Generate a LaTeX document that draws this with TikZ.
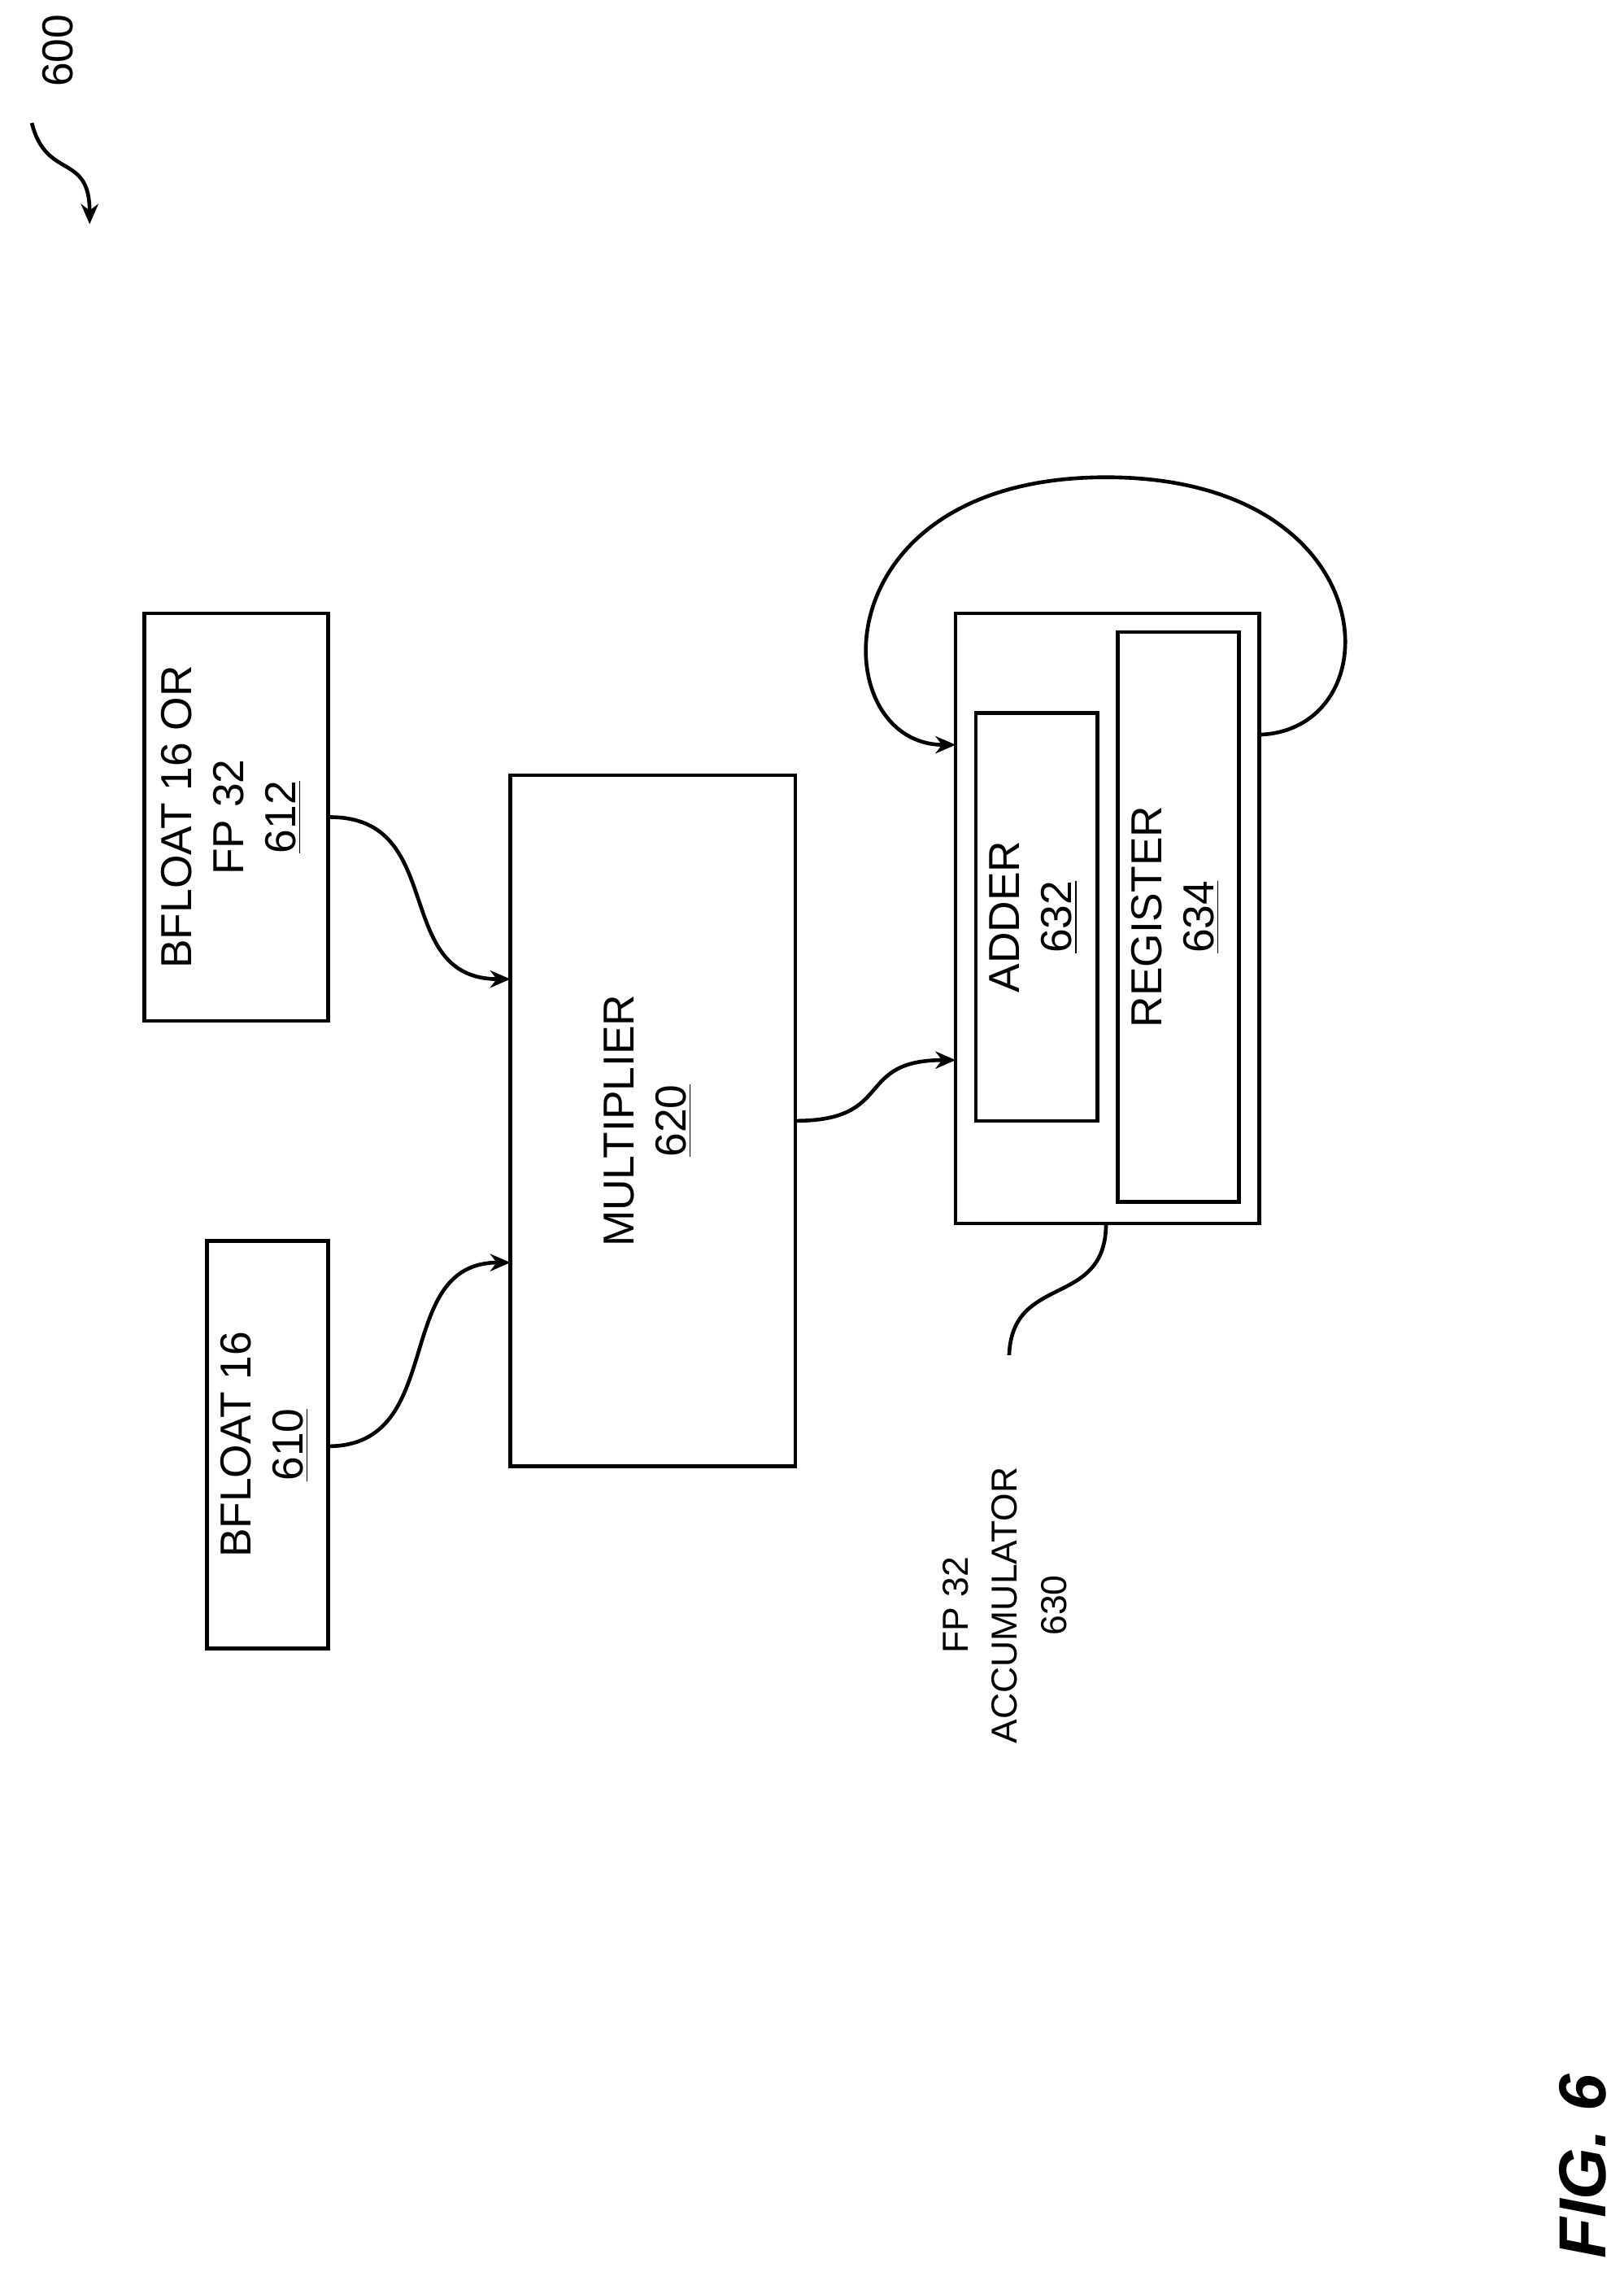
\documentclass[tikz,border=0pt]{standalone}
\usepackage{fontspec}
\setmainfont{Liberation Sans}
\usetikzlibrary{arrows.meta}
\begin{document}
\begin{tikzpicture}[x=0.5pt,y=-0.5pt,
  box/.style={draw,line width=1.3pt,rectangle,inner sep=0pt},
  lbl/.style={rotate=90,align=center,font=\fontsize{15}{18}\selectfont},
  con/.style={line width=1.3pt,-{Stealth[length=7pt,width=6pt]}}]
\useasboundingbox (0,0) rectangle (1123,1571);
\node[box,minimum width=63.5pt,minimum height=141pt] (b612) at (163.5,565) {};
\node[lbl] (t612) at (160,565) {BFLOAT 16 OR\\FP 32\\\underline{612}};
\node[box,minimum width=42pt,minimum height=141pt] (b610) at (185,999) {};
\node[lbl] (t610) at (183,999) {BFLOAT 16\\\underline{610}};
\node[box,minimum width=98.5pt,minimum height=239pt] (mul) at (451.5,775) {};
\node[lbl] (tmul) at (448,775) {MULTIPLIER\\\underline{620}};
\node[box,minimum width=105pt,minimum height=211pt] (acc) at (766,635) {};
\node[box,minimum width=42pt,minimum height=141pt] (add) at (717,634) {};
\node[lbl] (tadd) at (715,634) {ADDER\\\underline{632}};
\node[box,minimum width=42pt,minimum height=197pt] (reg) at (815,634) {};
\node[lbl] (treg) at (813,634) {REGISTER\\\underline{634}};
\coordinate (m1) at (353,677);
\coordinate (m2) at (353,873);
\coordinate (a1) at (661,733);
\coordinate (a2) at (661,515);
\coordinate (r1) at (871,508);
\coordinate (b1) at (227,1000);
\coordinate (m3) at (550,775);
\draw[con] (b612.east) .. controls (310,565) and (270,677) .. (m1);
\draw[con] (b1) .. controls (310,1000) and (270,873) .. (m2);
\draw[con] (m3) .. controls (620,775) and (590,733) .. (a1);
\draw[con] (r1) .. controls (965,505) and (960,330) .. (765,330) .. controls (565,330) and (570,515) .. (a2);
\coordinate (l1) at (765,846);
\coordinate (l2) at (698,937);
\draw[line width=1.3pt] (l1) .. controls (765,905) and (700,880) .. (l2);
\node[lbl,font=\fontsize{12.5}{17}\selectfont] (t630) at (695,1110) {FP 32\\ACCUMULATOR\\630};
\node[lbl] (t600) at (40,35) {600};
\coordinate (p1) at (22,85);
\coordinate (p2) at (62,155);
\draw[con] (p1) .. controls (32,125) and (62,105) .. (p2);
\node[rotate=90,font=\fontsize{23}{28}\selectfont\bfseries\itshape] (fig) at (1095,1498) {FIG. 6};
\end{tikzpicture}
\end{document}
